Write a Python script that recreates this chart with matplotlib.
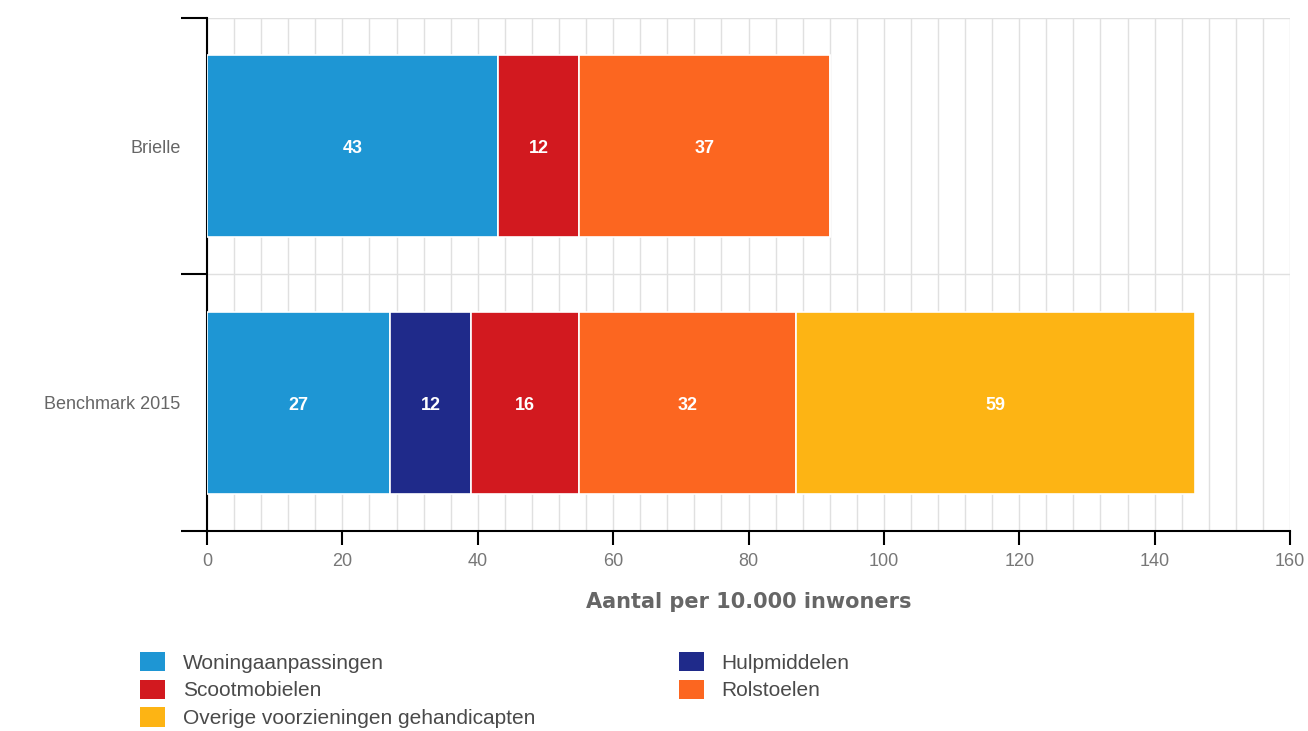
import numpy as np
import matplotlib.pyplot as plt
from matplotlib.patches import Patch

plt.rcParams['font.family'] = ['Liberation Sans', 'DejaVu Sans']

categories = ['Brielle', 'Benchmark 2015']
series = ['Woningaanpassingen', 'Hulpmiddelen', 'Scootmobielen', 'Rolstoelen',
          'Overige voorzieningen gehandicapten']
woning = [43, 27]
hulp = [0, 12]
scoot = [12, 16]
rol = [37, 32]
overig = [0, 59]
values = [woning, hulp, scoot, rol, overig]
colors = ['#1e96d4', '#1f2a8a', '#d2191f', '#fc6620', '#fdb414']

fig = plt.figure(figsize=(13.08, 7.31), dpi=100)
ax = fig.add_axes([0.1583, 0.2736, 0.9862 - 0.1583, 0.9754 - 0.2736])

y = np.arange(len(categories))
left = np.zeros(len(categories))
for name, vals, c in zip(series, values, colors):
    vals = np.array(vals, dtype=float)
    ax.barh(y, vals, left=left, height=0.71, color=c, edgecolor='white',
            linewidth=1.2, label=name, zorder=3)
    for yi, l, v in zip(y, left, vals):
        if v > 0:
            ax.text(l + v / 2, yi + 0.01, f'{int(v)}', ha='center', va='center',
                    color='white', fontsize=13, fontweight='bold', zorder=4)
    left += vals

ax.set_xlim(0, 160)
ax.set_ylim(1.5, -0.5)

# grid
ax.set_xticks(np.arange(0, 161, 20))
ax.set_xticks(np.arange(0, 161, 4), minor=True)
ax.grid(axis='x', which='both', color='#e0e0e0', linewidth=1, zorder=0)
ax.set_yticks([-0.5, 0.5, 1.5])
ax.set_yticklabels([])
ax.set_yticks(y, minor=True)
ax.set_yticklabels(categories, minor=True)
ax.grid(axis='y', which='major', color='#e0e0e0', linewidth=1, zorder=0)

ax.tick_params(axis='y', which='major', length=19, width=1.5, color='black', direction='out')
ax.tick_params(axis='y', which='minor', length=0, pad=19, labelsize=13, labelcolor='#666666')
ax.tick_params(axis='x', which='major', length=10, width=1.5, color='black',
               labelsize=13, labelcolor='#777777', pad=6)
ax.tick_params(axis='x', which='minor', length=0)

for s in ['top', 'right']:
    ax.spines[s].set_visible(False)
for s in ['left', 'bottom']:
    ax.spines[s].set_color('black')
    ax.spines[s].set_linewidth(1.5)

ax.set_xlabel('Aantal per 10.000 inwoners', fontsize=15, fontweight='bold',
              color='#666666', family='DejaVu Sans', labelpad=16)

order = [0, 2, 4, 1, 3]
handles = [Patch(facecolor=colors[i]) for i in order]
labels = [series[i] for i in order]
fig.legend(handles, labels, ncol=2, loc='upper left', bbox_to_anchor=(0.107, 0.108),
           frameon=False, fontsize=15, labelcolor='#4a4a4a', handlelength=1.2,
           handleheight=1.05, handletextpad=0.85, labelspacing=0.33, columnspacing=6.9,
           borderaxespad=0, borderpad=0)

fig.savefig('out.png', dpi=100)
